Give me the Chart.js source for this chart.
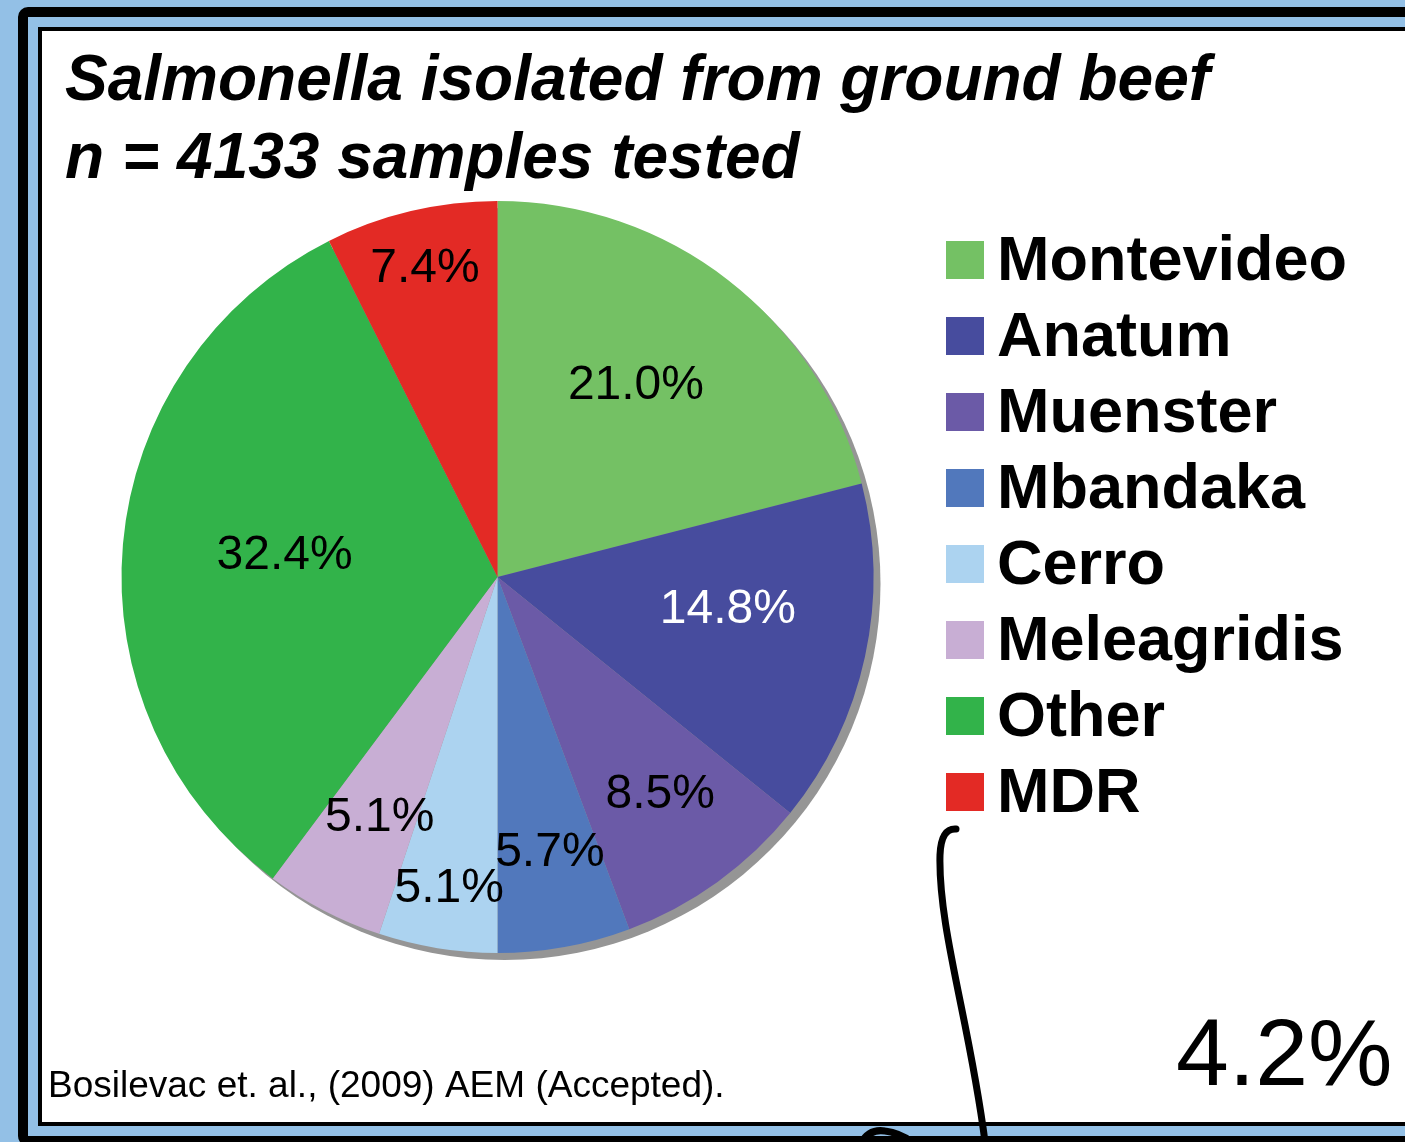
<!DOCTYPE html>
<html>
<head>
<meta charset="utf-8">
<script src="https://cdn.jsdelivr.net/npm/chart.js@4.4.1/dist/chart.umd.min.js"></script>
<style>
  html, body { margin: 0; padding: 0; }
  body { width: 1405px; height: 1142px; overflow: hidden; background: #93c0e6; position: relative; }
  .outer { position: absolute; left: 18px; top: 7px; width: 1500px; height: 1119px; border: 10px solid #000; border-radius: 10px; background: #93c0e6; }
  .inner { position: absolute; left: 38px; top: 27px; width: 1500px; height: 1091px; border: 4px solid #000; background: #fff; }
  .chart-container { position: absolute; left: 0; top: 0; width: 1405px; height: 1142px; }
</style>
</head>
<body>
<div class="outer"></div>
<div class="inner"></div>
<div class="chart-container"><canvas id="pie"></canvas></div>
<script>
// data
const titleLines = ['Salmonella isolated from ground beef', 'n = 4133 samples tested'];
const serotypes = ['Montevideo', 'Anatum', 'Muenster', 'Mbandaka', 'Cerro', 'Meleagridis', 'Other', 'MDR'];
const shares = [21.0, 14.8, 8.5, 5.7, 5.1, 5.1, 32.4, 7.4];
const mdrShare = 4.2;
const citation = 'Bosilevac et. al., (2009) AEM (Accepted).';

// styles
const sliceColors = ['#74c164', '#474c9e', '#6b5aa7', '#5178bc', '#acd3f0', '#c8aed4', '#32b34a', '#e32a25'];
const labelColors = ['#000', '#fff', '#000', '#000', '#000', '#000', '#000', '#000'];
// where each percentage sits: fraction of radius, and nudge in degrees from the slice middle
const labelRadius = [0.634, 0.618, 0.717, 0.739, 0.832, 0.706, 0.57, 0.849];
const labelTurn = [-2.3, -4.8, -1.3, -0.6, -0.3, -1.2, 1.5, 0.2];
const FONT = '"Liberation Sans", Arial, Helvetica, sans-serif';

const shadowPlugin = {
  id: 'pieShadow',
  beforeDatasetsDraw(chart) {
    const arc = chart.getDatasetMeta(0).data[0];
    const ctx = chart.ctx;
    ctx.save();
    ctx.fillStyle = '#959595';
    ctx.beginPath();
    ctx.arc(arc.x + 7, arc.y + 7, arc.outerRadius, 0, Math.PI * 2);
    ctx.fill();
    ctx.restore();
  }
};

const sliceLabels = {
  id: 'sliceLabels',
  afterDatasetsDraw(chart) {
    const ctx = chart.ctx;
    ctx.save();
    ctx.font = '48px ' + FONT;
    ctx.textAlign = 'center';
    ctx.textBaseline = 'middle';
    chart.getDatasetMeta(0).data.forEach((arc, i) => {
      const mid = (arc.startAngle + arc.endAngle) / 2 + labelTurn[i] * Math.PI / 180;
      const r = arc.outerRadius * labelRadius[i];
      ctx.fillStyle = labelColors[i];
      ctx.fillText(shares[i].toFixed(1) + '%', arc.x + Math.cos(mid) * r, arc.y + Math.sin(mid) * r + 3);
    });
    ctx.restore();
  }
};

// title, legend, citation and the hand drawn MDR note
const extras = {
  id: 'extras',
  afterDraw(chart) {
    const ctx = chart.ctx;
    ctx.save();
    ctx.fillStyle = '#000';
    ctx.textAlign = 'left';
    ctx.textBaseline = 'alphabetic';

    ctx.font = 'italic bold 64px ' + FONT;
    titleLines.forEach((t, i) => ctx.fillText(t, 65, 100 + i * 78));

    ctx.font = 'bold 63px ' + FONT;
    serotypes.forEach((name, i) => {
      ctx.fillStyle = sliceColors[i];
      ctx.fillRect(946, 241 + i * 76, 38, 38);
      ctx.fillStyle = '#000';
      ctx.fillText(name, 997, 280 + i * 76);
    });

    ctx.font = '37px ' + FONT;
    ctx.fillText(citation, 48, 1097);

    ctx.font = '95px ' + FONT;
    ctx.fillText(mdrShare.toFixed(1) + '%', 1176, 1085);

    ctx.strokeStyle = '#000';
    ctx.lineWidth = 7;
    ctx.lineCap = 'round';
    ctx.beginPath();
    ctx.moveTo(956, 829);
    ctx.quadraticCurveTo(941, 828, 940, 855);
    ctx.bezierCurveTo(938, 930, 972, 1030, 986, 1150);
    ctx.stroke();
    ctx.beginPath();
    ctx.moveTo(858, 1150);
    ctx.quadraticCurveTo(866, 1128, 885, 1131);
    ctx.quadraticCurveTo(900, 1133, 912, 1142);
    ctx.stroke();
    ctx.restore();
  }
};

const chartRef = document.getElementById('pie');
const chart = new Chart(chartRef.getContext('2d'), {
  type: 'pie',
  data: {
    labels: serotypes,
    datasets: [{
      data: shares,
      backgroundColor: sliceColors,
      borderWidth: 0,
    }]
  },
  options: {
    responsive: true,
    maintainAspectRatio: false,
    animation: false,
    layout: { padding: { left: 121.5, right: 531.5, top: 201, bottom: 189 } },
    plugins: {
      legend: { display: false },
      tooltip: { enabled: false },
    },
  },
  plugins: [shadowPlugin, sliceLabels, extras],
});
</script>
</body>
</html>
